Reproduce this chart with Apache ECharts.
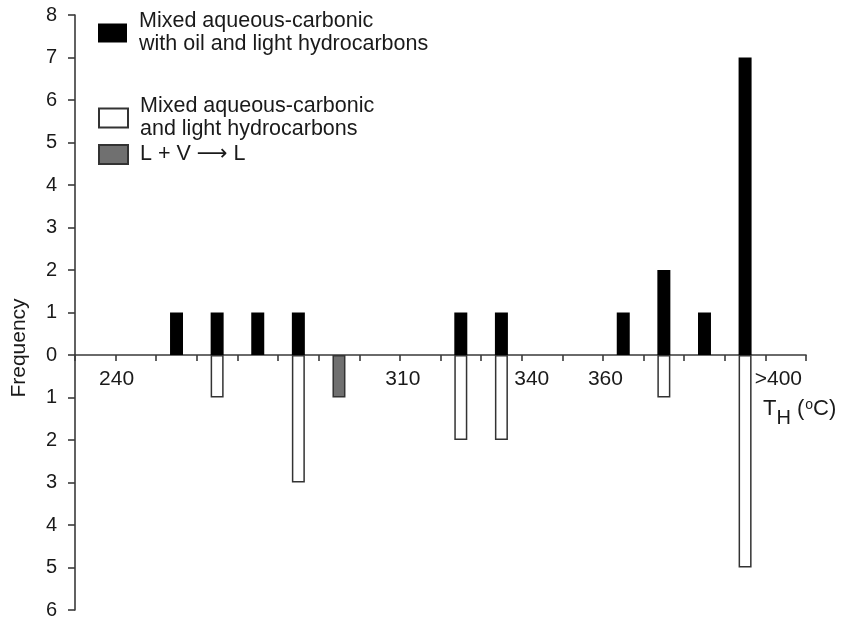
<!DOCTYPE html>
<html>
<head>
<meta charset="utf-8">
<script src="https://cdn.jsdelivr.net/npm/echarts@6/dist/echarts.min.js"></script>
<style>
  html, body { margin: 0; padding: 0; background: #fff; }
  #chart { width: 842px; height: 619px; }
</style>
</head>
<body>
<div id="chart"></div>
<script>
// Homogenisation temperature bins (bin centres, °C) and inclusion counts
const oilBins = [255, 265, 275, 285, 325, 335, 365, 375, 385, 395];
const oilCounts = [1, 1, 1, 1, 1, 1, 1, 2, 1, 7];
const lightBins = [265, 285, 325, 335, 375, 395];
const lightCounts = [1, 3, 2, 2, 1, 5];
const lvBins = [295];
const lvCounts = [1];

// Labelled temperature ticks
const xTickValues = [240, 310, 340, 360, 400];
const xTickTexts = ['240', '310', '340', '360', '>400'];

const seriesNames = [
  'Mixed aqueous-carbonic\nwith oil and light hydrocarbons',
  'Mixed aqueous-carbonic\nand light hydrocarbons',
  'L + V \u27F6 L'
];

const FONT = '"Liberation Sans", Arial, "DejaVu Sans", sans-serif';
const INK = '#1a1a1a';
const AXIS = '#3a3a3a';

const chart = echarts.init(document.getElementById('chart'));

// upper panel counts go up, lower panel counts are drawn downward
const up = (bins, counts) => bins.map((x, i) => [x, counts[i]]);
const down = (bins, counts) => bins.map((x, i) => [x, -counts[i]]);

const legendBase = {
  orient: 'vertical',
  left: 98,
  padding: 0,
  icon: 'rect',
  itemWidth: 29,
  itemHeight: 19,
  selectedMode: false,
  textStyle: { fontFamily: FONT, fontSize: 21.5, color: INK, lineHeight: 23, padding: [0, 0, 0, 7] }
};

const axisLineStyle = { color: AXIS, width: 1.6 };
const yLabel = { margin: 18, fontFamily: FONT, fontSize: 20, color: INK };

chart.setOption({
  animation: false,
  backgroundColor: '#fff',
  grid: [
    { left: 75, right: 36, top: 15, height: 340, containLabel: false, outerBoundsMode: 'none' },
    { left: 75, right: 36, top: 355, height: 255, containLabel: false, outerBoundsMode: 'none' }
  ],
  legend: [
    Object.assign({}, legendBase, { top: 10, data: [seriesNames[0]] }),
    Object.assign({}, legendBase, { top: 95, data: [seriesNames[1]] }),
    Object.assign({}, legendBase, { top: 143, data: [seriesNames[2]] })
  ],
  xAxis: [
    {
      gridIndex: 0,
      type: 'value',
      min: 230,
      max: 410,
      interval: 10,
      splitLine: { show: false },
      axisLine: { show: true, lineStyle: axisLineStyle },
      axisTick: { show: true, inside: false, length: 6, lineStyle: axisLineStyle },
      axisLabel: {
        margin: 14,
        fontFamily: FONT,
        fontSize: 21,
        color: INK,
        showMinLabel: true,
        showMaxLabel: true,
        formatter: function (v) {
          const i = xTickValues.indexOf(v);
          return i < 0 ? '' : '{s' + i + '|' + xTickTexts[i] + '}';
        },
        rich: {
          s0: { fontFamily: FONT, fontSize: 21, color: INK, padding: [0, 0, 0, 2] },
          s1: { fontFamily: FONT, fontSize: 21, color: INK, padding: [0, 0, 0, 6] },
          s2: { fontFamily: FONT, fontSize: 21, color: INK, padding: [0, 0, 0, 20] },
          s3: { fontFamily: FONT, fontSize: 21, color: INK, padding: [0, 0, 0, 5] },
          s4: { fontFamily: FONT, fontSize: 21, color: INK, padding: [0, 0, 0, 26] }
        }
      }
    },
    {
      gridIndex: 1,
      type: 'value',
      min: 230,
      max: 410,
      interval: 10,
      show: false
    }
  ],
  yAxis: [
    {
      gridIndex: 0,
      type: 'value',
      min: 0,
      max: 8,
      interval: 1,
      splitLine: { show: false },
      axisLine: { show: true, onZero: false, lineStyle: axisLineStyle },
      axisTick: { show: true, inside: false, length: 7, lineStyle: axisLineStyle },
      axisLabel: yLabel
    },
    {
      gridIndex: 1,
      type: 'value',
      min: -6,
      max: 0,
      interval: 1,
      splitLine: { show: false },
      axisLine: { show: true, onZero: false, lineStyle: axisLineStyle },
      axisTick: { show: true, inside: false, length: 7, lineStyle: axisLineStyle },
      axisLabel: Object.assign({}, yLabel, {
        showMaxLabel: false,
        formatter: function (v) { return v === 0 ? '' : String(Math.abs(v)); }
      })
    }
  ],
  series: [
    {
      name: seriesNames[0],
      type: 'bar',
      xAxisIndex: 0,
      yAxisIndex: 0,
      barWidth: 13,
      itemStyle: { color: '#000', borderColor: '#000', borderWidth: 0 },
      data: up(oilBins, oilCounts)
    },
    {
      name: seriesNames[1],
      type: 'bar',
      xAxisIndex: 1,
      yAxisIndex: 1,
      barWidth: 13,
      barGap: '-100%',
      itemStyle: { color: '#fff', borderColor: '#333', borderWidth: 1.5 },
      data: down(lightBins, lightCounts)
    },
    {
      name: seriesNames[2],
      type: 'bar',
      xAxisIndex: 1,
      yAxisIndex: 1,
      barWidth: 13,
      barGap: '-100%',
      itemStyle: { color: '#707070', borderColor: '#333', borderWidth: 1.5 },
      data: down(lvBins, lvCounts)
    }
  ],
  graphic: [
    {
      type: 'text',
      x: 19,
      y: 348,
      rotation: Math.PI / 2,
      style: {
        text: 'Frequency',
        fontFamily: FONT,
        fontSize: 21,
        fill: INK,
        align: 'center',
        verticalAlign: 'middle'
      }
    },
    {
      // temperature axis title: T with subscript H, degree sign as superscript o
      type: 'text',
      left: 763,
      top: 398,
      style: {
        text: '{t|T}{s|H}{t| (}{p|o}{t|C)}',
        fill: INK,
        rich: {
          t: { fontFamily: FONT, fontSize: 22, color: INK, lineHeight: 24, verticalAlign: 'top' },
          s: { fontFamily: FONT, fontSize: 20, color: INK, lineHeight: 24, verticalAlign: 'top', padding: [10, 0, 0, 0] },
          p: { fontFamily: FONT, fontSize: 14, color: INK, lineHeight: 16, verticalAlign: 'top', padding: [0, 0, 0, 1] }
        }
      }
    }
  ]
});
</script>
</body>
</html>
